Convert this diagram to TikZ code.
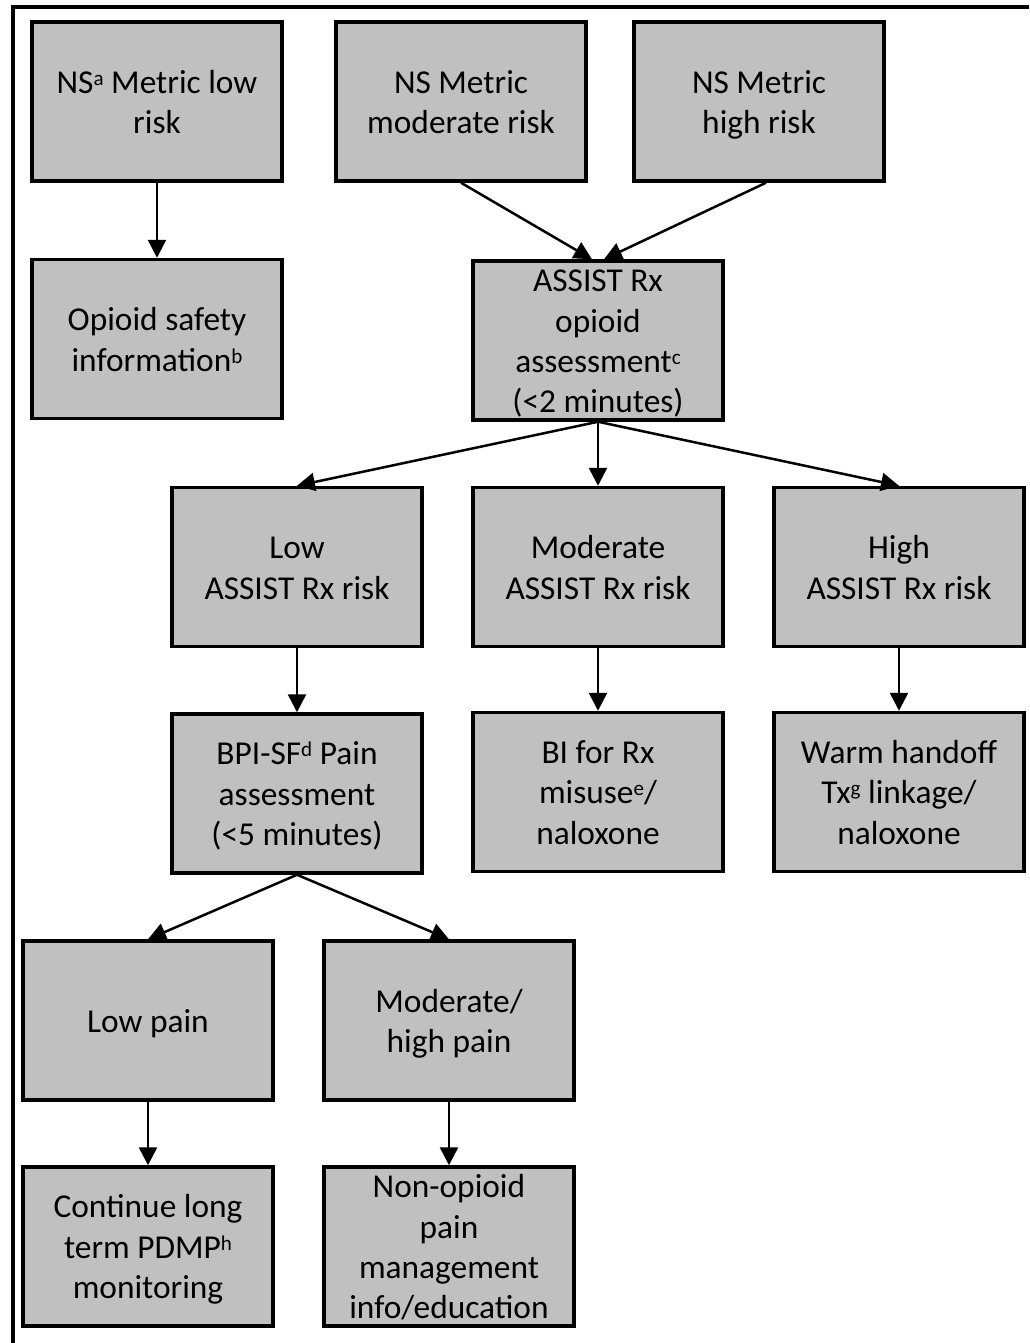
\documentclass[tikz,border=0pt]{standalone}
\usepackage{fontspec}
\setmainfont{Carlito}
\usetikzlibrary{arrows.meta}
\definecolor{boxgray}{RGB}{192,192,192}
\newcommand\noteref[1]{\raisebox{0.5ex}{\fontsize{12}{12}\selectfont #1}}
\newcommand\boxlines[1]{\raisebox{-0.34em}[0pt][0pt]{\begin{tabular}{@{}c@{}}#1\end{tabular}}}
\begin{document}
\begin{tikzpicture}[x=0.02cm, y=-0.02cm,
	box/.style={rectangle, draw, line width=0.07cm, fill=boxgray, minimum width=5cm, minimum height=3.18cm, inner sep=0pt, font=\fontsize{19}{23}\selectfont},
	link/.style={-{Triangle[length=0.36cm, width=0.36cm]}, line width=0.05cm}]
	\useasboundingbox (0,0) rectangle (1029,1343);
	\draw[line width=0.07cm] (13,1343) -- (13,7) -- (1029,7);
	% top row
	\node[box] (nslow) at (157,101.5) {\boxlines{NS\noteref{a} Metric low\\risk}};
	\node[box] (nsmod) at (461,101.5) {\boxlines{NS Metric\\moderate risk}};
	\node[box] (nshigh) at (759,101.5) {\boxlines{NS Metric\\high risk}};
	\node[box] (safety) at (157,339) {\boxlines{Opioid safety\\information\noteref{b}}};
	\node[box] (assist) at (598,340.5) {\boxlines{ASSIST Rx\\opioid\\assessment\noteref{c}\\(<2 minutes)}};
	% ASSIST Rx risk levels
	\node[box] (lowrisk) at (297,567) {\boxlines{Low\\ASSIST Rx risk}};
	\node[box] (modrisk) at (598,567) {\boxlines{Moderate\\ASSIST Rx risk}};
	\node[box] (highrisk) at (899,567) {\boxlines{High\\ASSIST Rx risk}};
	\node[box] (bpi) at (297,793.5) {\boxlines{BPI-SF\noteref{d} Pain\\assessment\\(<5 minutes)}};
	\node[box] (bi) at (598,792) {\boxlines{BI for Rx\\misuse\noteref{e}/\\naloxone}};
	\node[box] (warm) at (899,792) {\boxlines{Warm handoff\\Tx\noteref{g} linkage/\\naloxone}};
	% pain levels
	\node[box] (lowpain) at (148,1020.5) {\boxlines{Low pain}};
	\node[box] (modpain) at (449,1020.5) {\boxlines{Moderate/\\high pain}};
	\node[box] (pdmp) at (148,1246.5) {\boxlines{Continue long\\term PDMP\noteref{h}\\monitoring}};
	\node[box] (nonopioid) at (449,1246.5) {\boxlines{Non-opioid\\pain\\management\\info/education}};
	% arrows
	\draw[link] (nslow) -- (safety);
	\draw[link] (nsmod.south) -- ([xshift=-0.12cm]assist.north);
	\draw[link] ([xshift=0.14cm]nshigh.south) -- ([xshift=0.12cm]assist.north);
	\draw[link] (assist.south) -- (lowrisk.north);
	\draw[link] (assist.south) -- (modrisk.north);
	\draw[link] (assist.south) -- (highrisk.north);
	\draw[link] (lowrisk) -- (bpi);
	\draw[link] (modrisk) -- (bi);
	\draw[link] (highrisk) -- (warm);
	\draw[link] (bpi.south) -- (lowpain.north);
	\draw[link] (bpi.south) -- (modpain.north);
	\draw[link] (lowpain) -- (pdmp);
	\draw[link] (modpain) -- (nonopioid);
\end{tikzpicture}
\end{document}
